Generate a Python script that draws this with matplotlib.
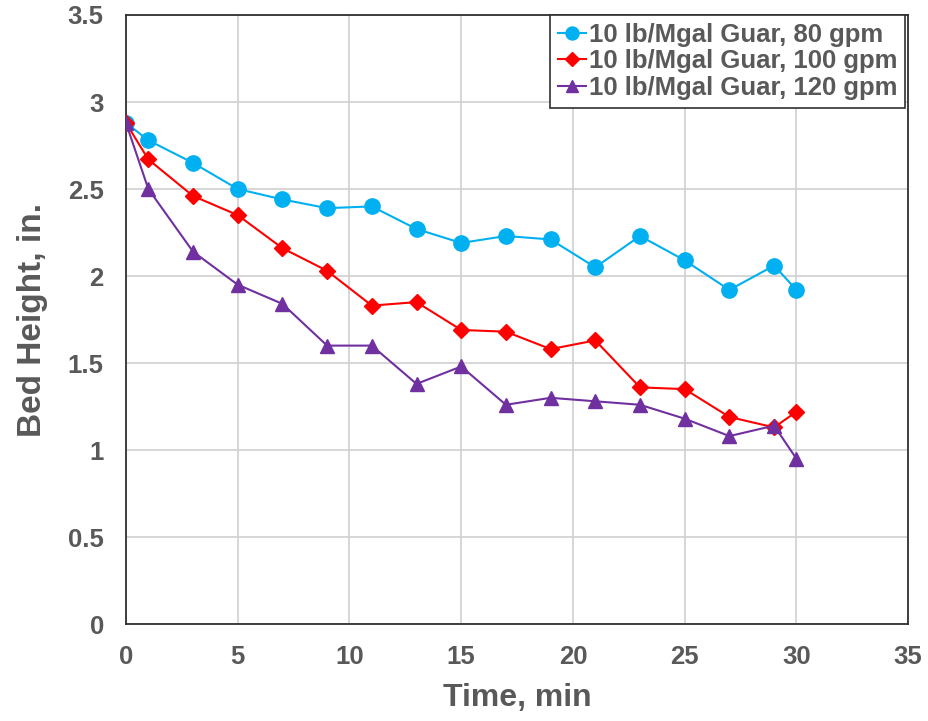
import matplotlib
matplotlib.use("Agg")
import matplotlib.pyplot as plt

# ── Data ──────────────────────────────────────────────────────────
TIME = [0, 1, 3, 5, 7, 9, 11, 13, 15, 17, 19, 21, 23, 25, 27, 29, 30]

GPM_80  = [2.88, 2.78, 2.65, 2.50, 2.44, 2.39, 2.40, 2.27, 2.19, 2.23,
           2.21, 2.05, 2.23, 2.09, 1.92, 2.06, 1.92]
GPM_100 = [2.88, 2.67, 2.46, 2.35, 2.16, 2.03, 1.83, 1.85, 1.69, 1.68,
           1.58, 1.63, 1.36, 1.35, 1.19, 1.13, 1.22]
GPM_120 = [2.88, 2.50, 2.14, 1.95, 1.84, 1.60, 1.60, 1.38, 1.48, 1.26,
           1.30, 1.28, 1.26, 1.18, 1.08, 1.14, 0.95]

LABELS = ["10 lb/Mgal Guar, 80 gpm",
          "10 lb/Mgal Guar, 100 gpm",
          "10 lb/Mgal Guar, 120 gpm"]

X_TICKS = [0, 5, 10, 15, 20, 25, 30, 35]
Y_TICKS = [0, 0.5, 1, 1.5, 2, 2.5, 3, 3.5]

TEXT_GRAY = "#595959"

plt.rcParams["font.family"] = ["Liberation Sans", "DejaVu Sans"]
plt.rcParams["font.weight"] = "bold"

fig = plt.figure(figsize=(9.29, 7.21), dpi=100)
ax = fig.add_axes([0.1356, 0.1345, 0.842, 0.8447])

ax.plot(TIME, GPM_80, color="#00B0F0", marker="o", markersize=11,
        linewidth=1.5, label=LABELS[0], zorder=3)
ax.plot(TIME, GPM_100, color="#FF0000", marker="D", markersize=8,
        linewidth=1.5, label=LABELS[1], zorder=4)
ax.plot(TIME, GPM_120, color="#7030A0", marker="^", markersize=10,
        linewidth=1.5, label=LABELS[2], zorder=5)

ax.set_xlim(0, 35)
ax.set_ylim(0, 3.5)
ax.set_xticks(X_TICKS)
ax.set_yticks(Y_TICKS)
ax.set_yticklabels([f"{v:g}" for v in Y_TICKS])
ax.grid(True, color="#D0D0D0", linewidth=1.2)
ax.set_axisbelow(True)

for sp in ax.spines.values():
    sp.set_color("#303030")
    sp.set_linewidth(1.3)

ax.tick_params(axis="y", length=0, labelsize=18.5, labelcolor=TEXT_GRAY, pad=16)
ax.tick_params(axis="x", length=0, labelsize=18.5, labelcolor=TEXT_GRAY, pad=15)
for lbl in ax.get_xticklabels() + ax.get_yticklabels():
    lbl.set_fontweight("bold")

ax.set_xlabel("Time, min", fontsize=23, fontweight="bold", color=TEXT_GRAY, labelpad=10)
ax.set_ylabel("Bed Height, in.", fontsize=24, fontweight="bold", color=TEXT_GRAY, labelpad=14)

leg = ax.legend(loc="upper right", bbox_to_anchor=(0.996, 1.0), fontsize=18.5,
                frameon=True, fancybox=False, framealpha=1, edgecolor="#303030",
                borderpad=0.3, labelspacing=0.1, handlelength=1.1,
                handletextpad=0.1, borderaxespad=0, markerscale=0.85)
leg.get_frame().set_linewidth(1.2)
for t in leg.get_texts():
    t.set_color(TEXT_GRAY)
    t.set_fontweight("bold")

fig.savefig("out.png", dpi=100)
